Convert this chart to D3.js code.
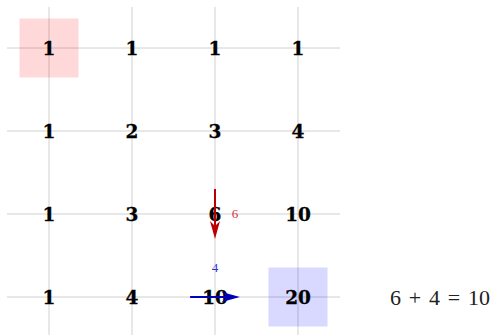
<!DOCTYPE html>
<html>
<head>
<meta charset="utf-8">
<script src="https://cdn.jsdelivr.net/npm/d3@7"></script>
<style>
  html, body { margin: 0; padding: 0; background: #fff; }
  svg { display: block; }
</style>
</head>
<body>
<svg id="chart" width="492" height="335"></svg>
<script>
// grid of path counts, row by row
const colIndex = [0, 1, 2, 3];
const rowIndex = [0, 1, 2, 3];
const gridValues = [
  [1, 1, 1, 1],
  [1, 2, 3, 4],
  [1, 3, 6, 10],
  [1, 4, 10, 20]
];
// highlighted start / end cells
const highlightCells = [
  {row: 0, col: 0, color: "#ff0000"},
  {row: 3, col: 3, color: "#0000ff"}
];
// contributions flowing into a cell
const arrows = [
  {row: 2, col: 2, dir: "down", label: "6", color: "#bb0000", labelColor: "#cc3333"},
  {row: 3, col: 2, dir: "right", label: "4", color: "#0000bb", labelColor: "#3333cc"}
];
const formula = "6 + 4 = 10";

const svg = d3.select("#chart");

const x = d3.scaleLinear().domain([0, 3]).range([49, 298]);
const y = d3.scaleLinear().domain([0, 3]).range([48, 297]);

// grid lines
const grid = svg.append("g").attr("stroke", "#d0d0d0").attr("stroke-width", 1);
grid.selectAll(".v").data(colIndex).enter().append("line")
  .attr("x1", d => x(d)).attr("x2", d => x(d))
  .attr("y1", 7).attr("y2", 335);
grid.selectAll(".h").data(rowIndex).enter().append("line")
  .attr("y1", d => y(d)).attr("y2", d => y(d))
  .attr("x1", 7).attr("x2", 340);

// highlight squares
const half = 29.5;
svg.selectAll(".hl").data(highlightCells).enter().append("rect")
  .attr("x", d => x(d.col) - half)
  .attr("y", d => y(d.row) - half)
  .attr("width", half * 2).attr("height", half * 2)
  .attr("fill", d => d.color)
  .attr("fill-opacity", 0.15);

// numbers
const cells = [];
gridValues.forEach((r, ri) => r.forEach((v, ci) => cells.push({row: ri, col: ci, v})));
svg.selectAll(".num").data(cells).enter().append("text")
  .attr("x", d => x(d.col))
  .attr("y", d => y(d.row) + 6.5)
  .attr("text-anchor", "middle")
  .attr("font-family", "DejaVu Serif, serif")
  .attr("font-weight", "bold")
  .attr("font-size", 18.5)
  .attr("stroke", "#000").attr("stroke-width", 0.3)
  .attr("fill", "#000")
  .text(d => d.v);

// arrows
const span = 0.3;
arrows.forEach(a => {
  const g = svg.append("g");
  const cx = x(a.col), cy = y(a.row);
  const len = (x(1) - x(0)) * span;
  if (a.dir === "down") {
    g.append("line").attr("x1", cx).attr("x2", cx)
      .attr("y1", cy - len).attr("y2", cy + len - 12)
      .attr("stroke", a.color).attr("stroke-width", 2);
    g.append("path")
      .attr("d", `M${cx},${cy + len} L${cx - 5},${cy + len - 18} L${cx},${cy + len - 13} L${cx + 5},${cy + len - 18} Z`)
      .attr("fill", a.color);
    g.append("text").attr("x", cx + 20).attr("y", cy + 4)
      .attr("text-anchor", "middle")
      .attr("font-family", "Liberation Serif, serif")
      .attr("font-size", 13).attr("fill", a.labelColor).text(a.label);
  } else {
    g.append("line").attr("y1", cy).attr("y2", cy)
      .attr("x1", cx - len).attr("x2", cx + len - 12)
      .attr("stroke", a.color).attr("stroke-width", 2);
    g.append("path")
      .attr("d", `M${cx + len},${cy} L${cx + len - 18},${cy - 5} L${cx + len - 13},${cy} L${cx + len - 18},${cy + 5} Z`)
      .attr("fill", a.color);
    g.append("text").attr("x", cx).attr("y", cy - 25)
      .attr("text-anchor", "middle")
      .attr("font-family", "Liberation Serif, serif")
      .attr("font-size", 13).attr("fill", a.labelColor).text(a.label);
  }
});

// formula, with math-style spacing between tokens
const ftext = svg.append("text")
  .attr("x", 390).attr("y", 305)
  .attr("font-family", "Liberation Serif, serif")
  .attr("font-size", 22)
  .attr("fill", "#222");
ftext.selectAll("tspan").data(formula.split(" ")).enter().append("tspan")
  .attr("dx", (d, i) => i === 0 ? 0 : 7.8)
  .text(d => d);
</script>
</body>
</html>
